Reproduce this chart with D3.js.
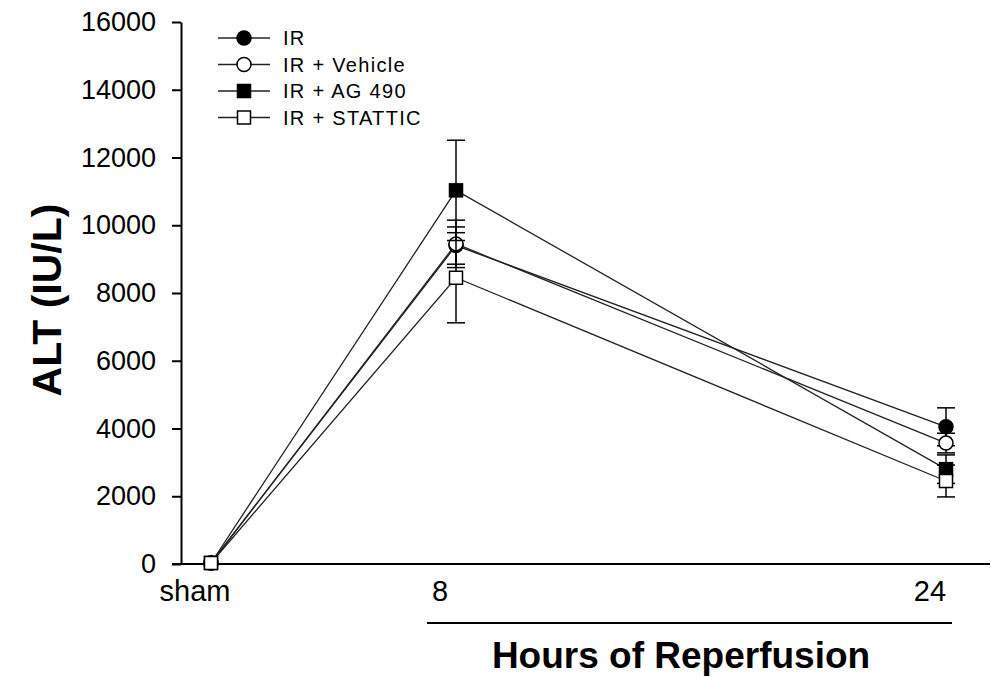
<!DOCTYPE html>
<html>
<head>
<meta charset="utf-8">
<script src="https://cdn.jsdelivr.net/npm/d3@7"></script>
<style>
  body { margin: 0; background: #fff; }
  text { font-family: "Liberation Sans", Arial, sans-serif; }
</style>
</head>
<body>
<svg id="chart" width="1003" height="677"></svg>
<script>
// data
var hours = [0, 8, 24];
var hourLabels = ["sham", "8", "24"];
var seriesNames = ["IR", "IR + Vehicle", "IR + AG 490", "IR + STATTIC"];
var irVals = [30, 9400, 4050];
var irErr = [20, 550, 560];
var vehVals = [30, 9450, 3570];
var vehErr = [20, 700, 290];
var agVals = [30, 11030, 2800];
var agErr = [20, 1480, 420];
var statVals = [30, 8450, 2450];
var statErr = [20, 1330, 470];
var yTicks = [0, 2000, 4000, 6000, 8000, 10000, 12000, 14000, 16000];

var svg = d3.select("#chart");
var width = 1003, height = 677;

var series = [
  { name: seriesNames[0], vals: irVals, err: irErr, shape: "circle", fill: "#000" },
  { name: seriesNames[1], vals: vehVals, err: vehErr, shape: "circle", fill: "#fff" },
  { name: seriesNames[2], vals: agVals, err: agErr, shape: "square", fill: "#000" },
  { name: seriesNames[3], vals: statVals, err: statErr, shape: "square", fill: "#fff" }
];

var x = d3.scaleLinear().domain([0, 24]).range([211, 946]);
var y = d3.scaleLinear().domain([0, 16000]).range([564, 22]);

// y axis
var yAxis = svg.append("g")
  .attr("transform", "translate(181,0)")
  .call(d3.axisLeft(y).tickValues(yTicks).tickFormat(d3.format("d"))
    .tickSize(9).tickPadding(16).tickSizeOuter(0));
yAxis.select(".domain").attr("stroke", "#000").attr("stroke-width", 2);
yAxis.selectAll(".tick line").attr("stroke", "#000").attr("stroke-width", 2);
yAxis.selectAll(".tick text")
  .style("font-size", "27px")
  .attr("fill", "#000")
  .style("font-family", "Liberation Sans, Arial, sans-serif");

// x axis line (no tick marks)
svg.append("line")
  .attr("x1", 172).attr("x2", 990)
  .attr("y1", y(0)).attr("y2", y(0))
  .attr("stroke", "#000").attr("stroke-width", 2);

// x labels
svg.selectAll(".xlab")
  .data(hours)
  .enter()
  .append("text")
  .attr("class", "xlab")
  .attr("x", function(d) { return x(d) - 16; })
  .attr("y", 601)
  .attr("text-anchor", "middle")
  .style("font-size", "29px")
  .text(function(d, i) { return hourLabels[i]; });

// underline + axis title
svg.append("line")
  .attr("x1", 427).attr("x2", 952)
  .attr("y1", 623).attr("y2", 623)
  .attr("stroke", "#000").attr("stroke-width", 2);

svg.append("text")
  .attr("x", 681)
  .attr("y", 668)
  .attr("text-anchor", "middle")
  .style("font-size", "37px")
  .style("font-weight", "bold")
  .text("Hours of Reperfusion");

svg.append("text")
  .attr("transform", "translate(61,300) rotate(-90)")
  .attr("text-anchor", "middle")
  .style("font-size", "41px")
  .style("font-weight", "bold")
  .text("ALT (IU/L)");

var line = d3.line()
  .x(function(d) { return x(d.h); })
  .y(function(d) { return y(d.v); });

function pts(s) {
  return hours.map(function(h, i) { return { h: h, v: s.vals[i], e: s.err[i] }; });
}

// connecting lines
series.forEach(function(s) {
  svg.append("path")
    .datum(pts(s))
    .attr("d", line)
    .attr("fill", "none")
    .attr("stroke", "#222")
    .attr("stroke-width", 1.3);
});

function drawMarker(g, s, cx, cy) {
  if (s.shape == "circle") {
    g.append("circle")
      .attr("cx", cx).attr("cy", cy).attr("r", 7)
      .attr("fill", s.fill).attr("stroke", "#000").attr("stroke-width", 1.5);
  } else {
    g.append("rect")
      .attr("x", cx - 6.5).attr("y", cy - 6.5)
      .attr("width", 13).attr("height", 13)
      .attr("fill", s.fill).attr("stroke", "#000").attr("stroke-width", 1.5);
  }
}

// error bars + markers
series.forEach(function(s) {
  var g = svg.append("g");
  pts(s).forEach(function(d) {
    if (d.h > 0) {
      g.append("line")
        .attr("x1", x(d.h)).attr("x2", x(d.h))
        .attr("y1", y(d.v - d.e)).attr("y2", y(d.v + d.e))
        .attr("stroke", "#000").attr("stroke-width", 1.5);
      [d.v - d.e, d.v + d.e].forEach(function(v) {
        g.append("line")
          .attr("x1", x(d.h) - 9).attr("x2", x(d.h) + 9)
          .attr("y1", y(v)).attr("y2", y(v))
          .attr("stroke", "#000").attr("stroke-width", 1.5);
      });
    }
    drawMarker(g, s, x(d.h), y(d.v));
  });
});

// legend
var legend = svg.append("g").attr("transform", "translate(218,38)");
series.forEach(function(s, i) {
  var row = legend.append("g").attr("transform", "translate(0," + (i * 26.5) + ")");
  row.append("line")
    .attr("x1", 0).attr("x2", 52)
    .attr("y1", 0).attr("y2", 0)
    .attr("stroke", "#222").attr("stroke-width", 1.3);
  drawMarker(row, s, 26, 0);
  row.append("text")
    .attr("x", 65)
    .attr("y", 7)
    .style("font-size", "20px")
    .style("letter-spacing", "1.3px")
    .text(s.name);
});
</script>
</body>
</html>
